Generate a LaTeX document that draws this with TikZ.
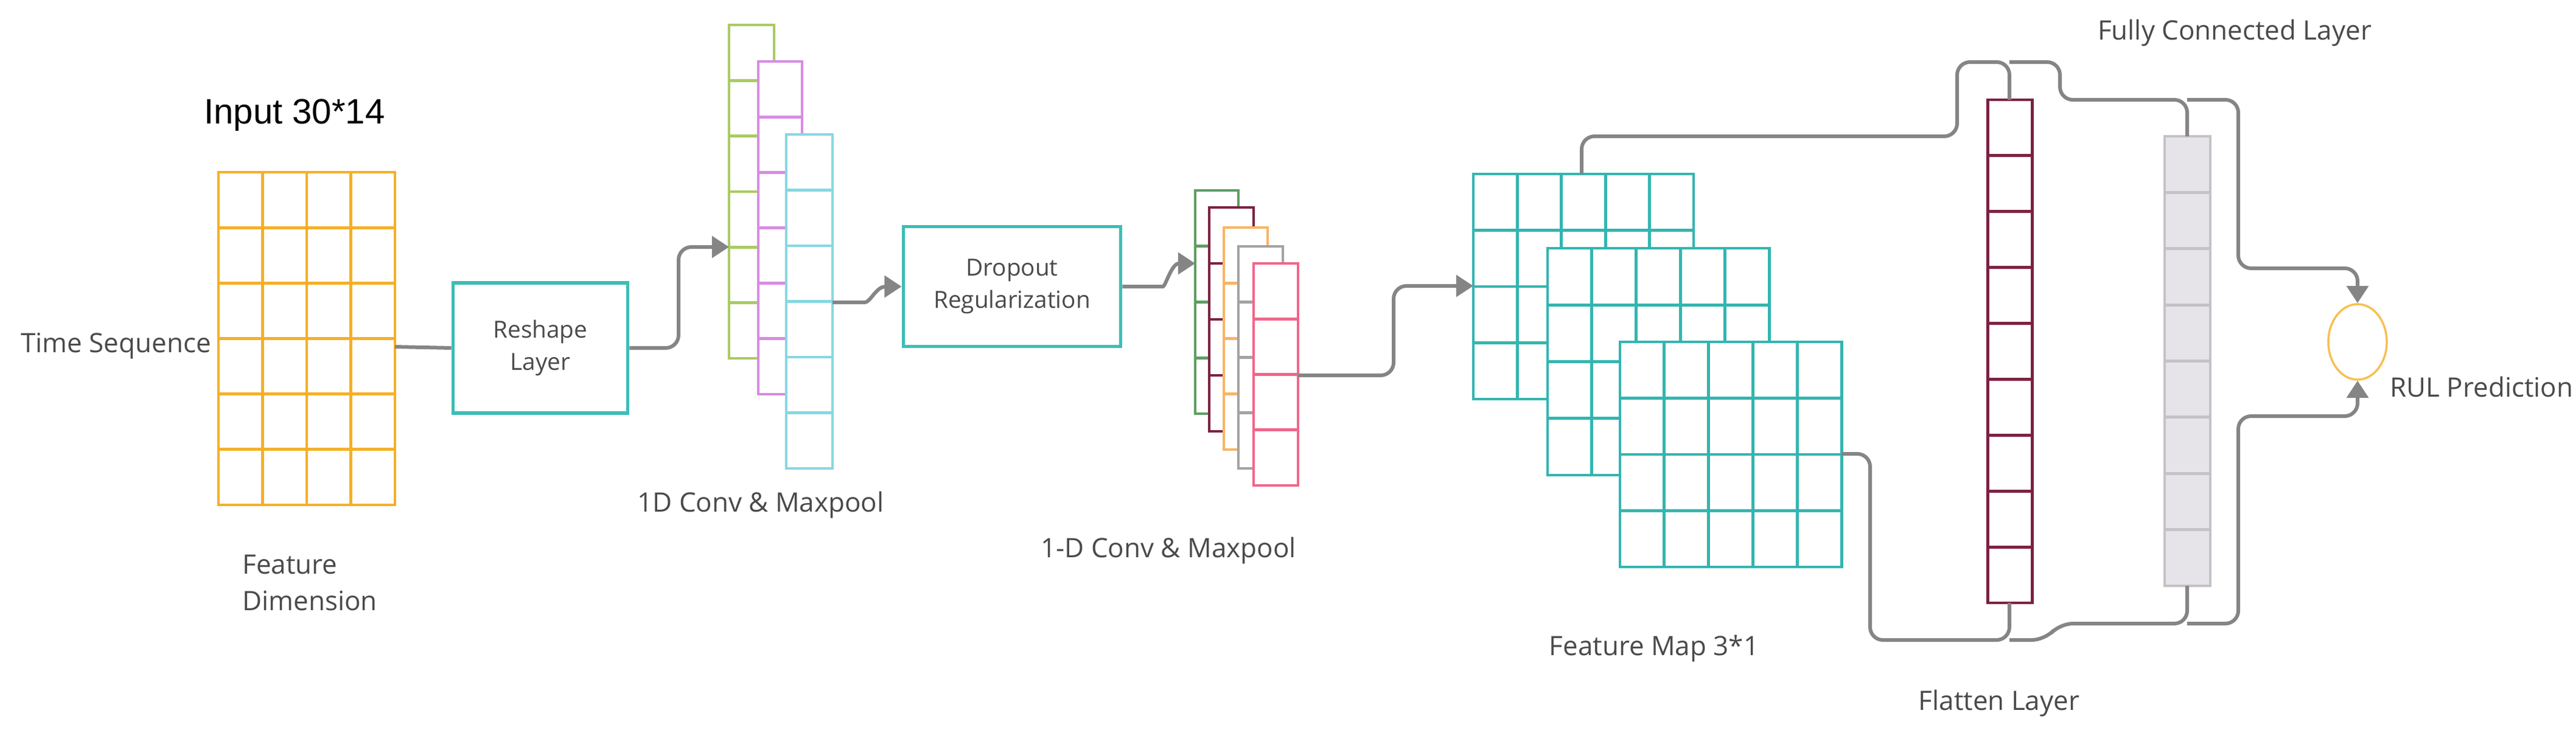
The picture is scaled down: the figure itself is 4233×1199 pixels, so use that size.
\documentclass[tikz,border=0pt]{standalone}
\usepackage{fontspec}
\setmainfont{Open Sans}
\newfontfamily\inputfont{Liberation Sans}
\usetikzlibrary{arrows.meta,shapes.geometric}

\definecolor{inorange}{HTML}{F5B027}
\definecolor{boxteal}{HTML}{3DBDB8}
\definecolor{cgreen}{HTML}{A9CB62}
\definecolor{cpurple}{HTML}{D88BE4}
\definecolor{ccyan}{HTML}{86D8E2}
\definecolor{dgreen}{HTML}{5E9E62}
\definecolor{maroon}{HTML}{7D2143}
\definecolor{corange}{HTML}{F8B565}
\definecolor{cgray}{HTML}{A3A3A3}
\definecolor{cpink}{HTML}{F2668A}
\definecolor{fmteal}{HTML}{33B5B0}
\definecolor{fcfill}{HTML}{E7E4E9}
\definecolor{fcline}{HTML}{C4C2C6}
\definecolor{wire}{HTML}{858585}
\definecolor{labelgray}{HTML}{4A4A4A}

\tikzset{
  cell/.style={line width=1.4pt,fill=white},
  wire/.style={draw=wire,line width=1.7pt,rounded corners=6pt},
  wirearrow/.style={wire,-{Triangle[length=8pt,width=10pt]}},
  layerbox/.style={draw=boxteal,line width=1.6pt,fill=white,text=labelgray,
    font=\fontsize{11}{15}\selectfont,align=center,inner sep=0pt},
  label/.style={text=labelgray,font=\fontsize{12.5}{17}\selectfont,align=left},
}

% block of cells: name, x0, y0, x1, y1, cols, rows, colour
\newcommand\cellblock[8]{%
  \draw[cell,draw=#8] (#2,#3) rectangle (#4,#5);
  \foreach \i in {1,...,#6}{\draw[line width=1.4pt,#8] ({#2+(#4-#2)*\i/#6},#3) -- ({#2+(#4-#2)*\i/#6},#5);}
  \foreach \j in {1,...,#7}{\draw[line width=1.4pt,#8] (#2,{#3+(#5-#3)*\j/#7}) -- (#4,{#3+(#5-#3)*\j/#7});}
  \coordinate (#1-nw) at (#2,#3);
  \coordinate (#1-se) at (#4,#5);
}

\begin{document}
\begin{tikzpicture}[x=0.01cm,y=-0.01cm]
\useasboundingbox (0,0) rectangle (4233,1199);

% input
\cellblock{in}{359}{283}{649}{830}{4}{6}{inorange}
\node[font=\inputfont\fontsize{16.5}{20}\selectfont] (intext) at (484,189) {Input 30*14};
\node[label,anchor=west] (time) at (22,569) {Time Sequence};
\node[label,anchor=north west] (feat) at (386,900) {Feature\\Dimension};

% reshape
\node[layerbox,minimum width=2.87cm,minimum height=2.14cm] (reshape) at (888,572) {Reshape\\Layer};

% first conv
\cellblock{ca}{1198}{41}{1272}{589}{1}{6}{cgreen}
\cellblock{cb}{1246}{101}{1318}{648}{1}{6}{cpurple}
\cellblock{cc}{1292}{221}{1368}{770}{1}{6}{ccyan}
\node[label] (conv1) at (1250,830) {1D Conv \& Maxpool};

% dropout
\node[layerbox,minimum width=3.57cm,minimum height=1.97cm] (drop) at (1663,471) {Dropout\\Regularization};

% second conv
\cellblock{da}{1964}{313}{2035}{680}{1}{4}{dgreen}
\cellblock{db}{1987}{341}{2060}{709}{1}{4}{maroon}
\cellblock{dc}{2011}{374}{2083}{739}{1}{4}{corange}
\cellblock{dd}{2035}{405}{2108}{770}{1}{4}{cgray}
\cellblock{de}{2060}{433}{2133}{798}{1}{4}{cpink}
\node[label] (conv2) at (1920,905) {1-D Conv \& Maxpool};

% feature maps
\cellblock{fa}{2421}{286}{2783}{656}{5}{4}{fmteal}
\cellblock{fb}{2543}{408}{2907}{781}{5}{4}{fmteal}
\cellblock{fc}{2662}{562}{3026}{932}{5}{4}{fmteal}
\node[label] (fmap) at (2718,1066) {Feature Map 3*1};

% flatten and dense
\cellblock{flat}{3266}{164}{3339}{991}{1}{9}{maroon}
\node[label] (flattext) at (3285,1156) {Flatten Layer};
\fill[fcfill] (3557,224) rectangle (3632,963);
\foreach \j in {1,...,7}{\draw[line width=1.4pt,fcline] (3557,{224+739*\j/8}) -- (3632,{224+739*\j/8});}
\draw[line width=1pt,fcline] (3557,224) rectangle (3632,963);
\coordinate (dense-n) at (3594,224);
\coordinate (dense-s) at (3594,963);
\node[label] (fctext) at (3672,54) {Fully Connected Layer};

% output
\node[draw=inorange!80,line width=1pt,ellipse,minimum width=0.96cm,minimum height=1.24cm] (rul) at (3874,562) {};
\node[label,anchor=west] (rultext) at (3915,636) {RUL Prediction};

% connectors
\coordinate (in-e) at (649,570);
\coordinate (cc-e) at (1368,497);
\coordinate (de-e) at (2133,617);
\coordinate (fa-n) at (2599,286);
\coordinate (fc-e) at (3026,746);
\coordinate (flat-n) at (3302,164);
\coordinate (flat-s) at (3302,991);
\coordinate (topjoin) at (3302,102);
\coordinate (botjoin) at (3302,1052);
\coordinate (dtop) at (3594,164);
\coordinate (dbot) at (3594,1025);

\draw[wire] (in-e) -- (reshape.west);
\draw[wirearrow] (reshape.east) -- (1115,572) -- (1115,406) -- (ca-nw |- 0,406);
\draw[wirearrow] (cc-e) -- (1400,497) .. controls (1430,497) and (1440,471) .. (drop.west);
\draw[wirearrow] (drop.east) -- (1890,471) .. controls (1915,471) and (1925,433) .. (da-nw |- 0,433);
\draw[wirearrow] (de-e) -- (2290,617) -- (2290,470) -- (fa-nw |- 0,470);

\draw[wire] (fa-n) -- (2599,224) -- (3216,224) -- (3216,102) -- (topjoin) -- (flat-n);
\draw[wire] (topjoin) -- (3385,102) -- (3385,164) -- (dtop) -- (dense-n);
\draw[wirearrow] (dtop) -- (3678,164) -- (3678,441) -- (3874,441) -- (rul.north);
\draw[wire] (fc-e) -- (3073,746) -- (3073,1052) -- (botjoin) -- (flat-s);
\draw[wire] (botjoin) -- (3360,1052) -- (3385,1025) -- (dbot) -- (dense-s);
\draw[wirearrow] (dbot) -- (3678,1025) -- (3678,684) -- (3874,684) -- (rul.south);
\end{tikzpicture}
\end{document}
